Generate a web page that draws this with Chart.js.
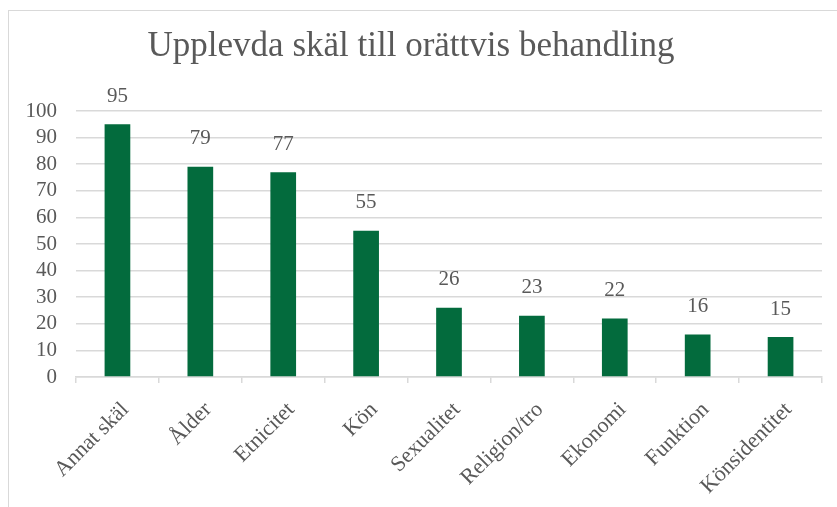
<!DOCTYPE html>
<html><head><meta charset="utf-8">
<script src="https://cdn.jsdelivr.net/npm/chart.js@4"></script>
<style>
html,body{margin:0;padding:0;background:#fff;overflow:hidden}
#frame{position:absolute;left:8px;top:10px;width:860px;height:530px;border:1.5px solid #d9d9d9;box-sizing:border-box}
#wrap{position:absolute;left:0;top:0;width:837px;height:507px}
</style></head><body>
<div id="frame"></div>
<div id="wrap"><canvas id="c" width="837" height="507"></canvas></div>
<script>
const categories = ["Annat skäl","Ålder","Etnicitet","Kön","Sexualitet","Religion/tro","Ekonomi","Funktion","Könsidentitet"];
const values = [95,79,77,55,26,23,22,16,15];
const yTicks = [0,10,20,30,40,50,60,70,80,90,100];

const FONT = "'Liberation Serif', 'DejaVu Serif', serif";
const TXT = '#595959';

const labelPlugin = {
  id: 'valLabels',
  afterDatasetsDraw(chart) {
    const ctx = chart.ctx;
    const meta = chart.getDatasetMeta(0);
    ctx.save();
    ctx.font = "21px " + FONT;
    ctx.fillStyle = TXT;
    ctx.textAlign = 'center';
    ctx.textBaseline = 'middle';
    meta.data.forEach((bar, i) => {
      ctx.fillText(String(values[i]), bar.x, bar.y - 28);
    });
    ctx.restore();
  }
};

new Chart(document.getElementById('c'), {
  type: 'bar',
  data: {
    labels: categories,
    datasets: [{
      data: values,
      backgroundColor: '#036b3d',
      barPercentage: 0.31,
      categoryPercentage: 1.0
    }]
  },
  options: {
    responsive: false,
    animation: false,
    devicePixelRatio: 1,
    layout: { padding: { left: 0, right: 15, top: 0, bottom: 0 } },
    plugins: {
      legend: { display: false },
      tooltip: { enabled: false },
      title: {
        display: true,
        text: 'Upplevda skäl till orättvis behandling',
        color: TXT,
        font: { family: FONT, size: 35, weight: 'normal' },
        padding: { top: 26, bottom: 43 }
      }
    },
    scales: {
      y: {
        min: 0, max: 100,
        afterBuildTicks(scale) { scale.ticks = yTicks.map(v => ({ value: v })); },
        afterFit(scale) { scale.width = 76; },
        ticks: { color: TXT, font: { family: FONT, size: 21, lineHeight: 1 }, padding: 19, autoSkip: false, stepSize: 10 },
        grid: { color: '#d9d9d9', lineWidth: 1.5, drawTicks: false },
        border: { display: false }
      },
      x: {
        afterFit(scale) { scale.height = 130; },
        ticks: { color: TXT, font: { family: FONT, size: 22 }, minRotation: 45, maxRotation: 45, padding: 14, labelOffset: 8, autoSkip: false },
        grid: { offset: true, drawOnChartArea: false, drawTicks: true, tickLength: 6, color: '#d9d9d9', lineWidth: 1.5 },
        border: { display: true, color: '#d9d9d9', width: 1.5 }
      }
    }
  },
  plugins: [labelPlugin]
});
</script>
</body></html>
